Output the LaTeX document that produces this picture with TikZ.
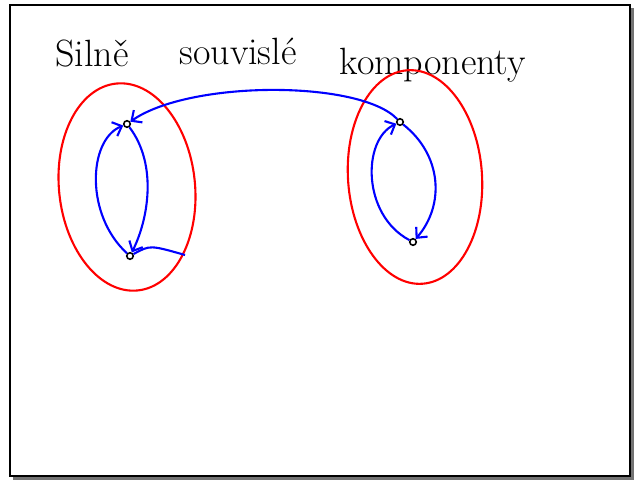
\documentclass[tikz,border=0pt]{standalone}
\usepackage{tikz}
\usetikzlibrary{arrows.meta}

\begin{document}
\begin{tikzpicture}[x=1pt,y=-1pt,
    vrchol/.style={circle,draw,line width=1.6pt,inner sep=0pt,minimum size=6.5pt},
    hrana/.style={blue,line width=2.1pt,-{Straight Barb[length=8pt,width=15pt]}},
    komp/.style={red,line width=2.1pt},
    nadpis/.style={anchor=base west,font=\fontsize{38}{44}\selectfont}]
    \useasboundingbox (0,0) rectangle (637,482);
    \fill[black!55] (13,8) rectangle (634,480);
    \draw[fill=white,line width=1.6pt] (10,5) rectangle (630,476);
    % nadpis
    \node[nadpis] (silne) at (52,66) {Silně};
    \node[nadpis] (souvisle) at (176,64) {souvislé};
    \node[nadpis] (komponenty) at (336,74) {komponenty};
    % komponenty
    \draw[komp,rotate around={6:(127,187)}] (127,187) ellipse (68 and 104);
    \draw[komp,rotate around={4:(415,177)}] (415,177) ellipse (67 and 107);
    \node[vrchol] (lt) at (127,124) {};
    \node[vrchol] (lb) at (130,256) {};
    \node[vrchol] (rt) at (400,122) {};
    \node[vrchol] (rb) at (413,242) {};
    \coordinate (ven) at (185,255);
    % hrany
    \draw[hrana] (lt) .. controls (158,165) and (148,220) .. (lb);
    \draw[hrana] (lb) .. controls (85,215) and (88,140) .. (lt);
    \draw[hrana] (rt) .. controls (442,155) and (445,205) .. (rb);
    \draw[hrana] (rb) .. controls (362,215) and (362,140) .. (rt);
    \draw[hrana] (rt) .. controls (360,80) and (190,80) .. (lt);
    \draw[blue,line width=2.1pt] (lb) .. controls (150,245) .. (ven);
\end{tikzpicture}
\end{document}
